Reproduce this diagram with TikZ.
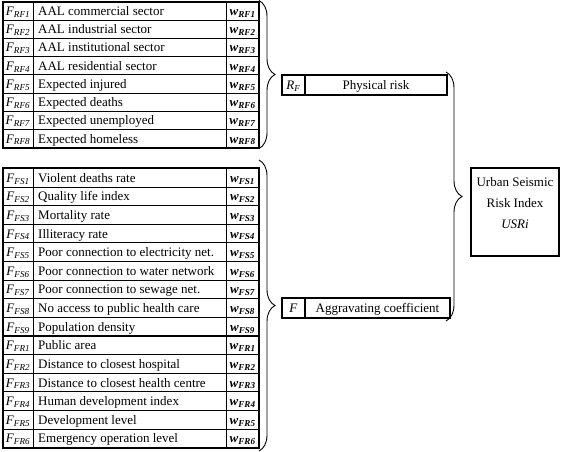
\documentclass[tikz,border=0pt]{standalone}
\usepackage{fontspec}
\setmainfont{Liberation Serif}
\usetikzlibrary{decorations.pathreplacing}
\begin{document}
\begin{tikzpicture}[x=1pt,y=-1pt,
  thinline/.style={line width=0.8pt},
  thickline/.style={line width=2pt},
  lbl/.style={inner sep=0pt, font=\fontsize{13}{15}\selectfont},
  bracestyle/.style={decorate, decoration={brace, amplitude=16pt}, line width=0.9pt}]
\useasboundingbox (0,0) rectangle (568,452);
\def\xa{2.7}\def\xb{33.3}\def\xc{226}\def\xd{259.3}
% ---------- top table ----------
\foreach [count=\i] \txt in {AAL commercial sector, AAL industrial sector, AAL institutional sector, AAL residential sector, Expected injured, Expected deaths, Expected unemployed, Expected homeless} {
  \pgfmathsetmacro\yb{2+(\i-0.5)*18.2+4.5}
  \node[lbl, anchor=base] (rfF\i) at (18,\yb) {\textit{F}\textsubscript{\textit{RF\i}}};
  \node[lbl, anchor=base west] (rfT\i) at (38,\yb) {\txt};
  \node[lbl, anchor=base] (rfW\i) at (242.6,\yb) {\textbf{\textit{w}}\textsubscript{\textbf{\textit{RF\i}}}};
}
\foreach \k in {1,...,7} \draw[thinline] (\xa,2+\k*18.2) -- (\xd,2+\k*18.2);
\draw[thinline] (\xb,2) -- (\xb,147.6) (\xc,2) -- (\xc,147.6);
\draw[thickline] (\xa,2) rectangle (\xd,147.6);
% ---------- bottom table ----------
\foreach [count=\i] \txt in {Violent deaths rate, Quality life index, Mortality rate, Illiteracy rate, Poor connection to electricity net., Poor connection to water network, Poor connection to sewage net., No access to public health care, Population density} {
  \pgfmathsetmacro\yb{168.3+(\i-0.5)*18.63+4.5}
  \node[lbl, anchor=base] (fsF\i) at (18,\yb) {\textit{F}\textsubscript{\textit{FS\i}}};
  \node[lbl, anchor=base west] (fsT\i) at (38,\yb) {\txt};
  \node[lbl, anchor=base] (fsW\i) at (242.6,\yb) {\textbf{\textit{w}}\textsubscript{\textbf{\textit{FS\i}}}};
}
\foreach [count=\i] \txt in {Public area, Distance to closest hospital, Distance to closest health centre, Human development index, Development level, Emergency operation level} {
  \pgfmathsetmacro\yb{168.3+(\i+8.5)*18.63+4.5}
  \node[lbl, anchor=base] (frF\i) at (18,\yb) {\textit{F}\textsubscript{\textit{FR\i}}};
  \node[lbl, anchor=base west] (frT\i) at (38,\yb) {\txt};
  \node[lbl, anchor=base] (frW\i) at (242.6,\yb) {\textbf{\textit{w}}\textsubscript{\textbf{\textit{FR\i}}}};
}
\foreach \k in {1,...,14} \draw[thinline] (\xa,168.3+\k*18.63) -- (\xd,168.3+\k*18.63);
\draw[thinline] (\xb,168.3) -- (\xb,447.7) (\xc,168.3) -- (\xc,447.7);
\draw[thickline] (\xa,168.3+9*18.63) -- (\xd,168.3+9*18.63);
\draw[thickline] (\xa,168.3) rectangle (\xd,447.7);
% ---------- braces ----------
\draw[bracestyle] (259,0.5) -- (259,148.5);
\draw[bracestyle] (259,160) -- (259,451);
\draw[bracestyle] (446,72) -- (446,321);
% ---------- middle boxes ----------
\draw[thickline] (282,75) rectangle (447,95);
\draw[line width=1.2pt] (305,75) -- (305,95);
\node[lbl, anchor=base] (rfsym) at (293.5,89.5) {\textit{R}\textsubscript{\textit{F}}};
\node[lbl, anchor=base] (rftxt) at (376,89.5) {Physical risk};
\draw[thickline] (282,298) rectangle (450,318);
\draw[line width=1.2pt] (305,298) -- (305,318);
\node[lbl, anchor=base] (fsym) at (293.5,312.5) {\textit{F}};
\node[lbl, anchor=base] (ftxt) at (377.5,312.5) {Aggravating coefficient};
% ---------- USRi ----------
\draw[thickline] (471,168) rectangle (559,256);
\node[inner sep=0pt, align=center, font=\fontsize{13}{21}\selectfont] (usri) at (515,203) {Urban Seismic\\Risk Index\\\textit{USRi}};
\end{tikzpicture}
\end{document}
